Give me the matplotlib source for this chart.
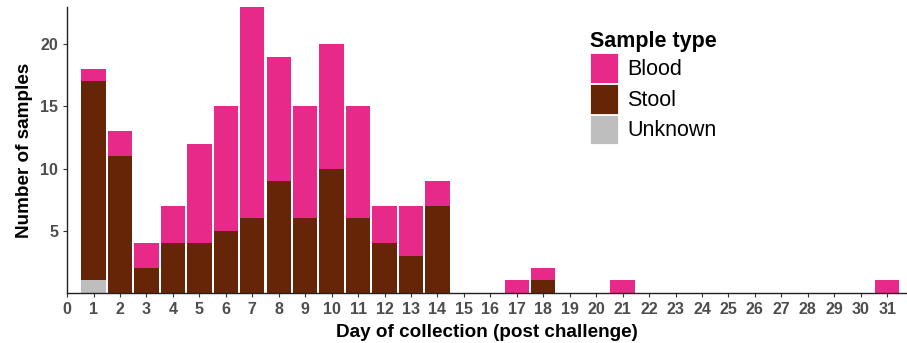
import matplotlib
matplotlib.use('Agg')
import matplotlib.pyplot as plt
import matplotlib.patches as mpatches
import numpy as np

plt.rcParams['font.family'] = ['Liberation Sans', 'DejaVu Sans']

days = [1, 2, 3, 4, 5, 6, 7, 8, 9, 10, 11, 12, 13, 14, 17, 18, 21, 31]
unknown = [1, 0, 0, 0, 0, 0, 0, 0, 0, 0, 0, 0, 0, 0, 0, 0, 0, 0]
stool = [16, 11, 2, 4, 4, 5, 6, 9, 6, 10, 6, 4, 3, 7, 0, 1, 0, 0]
blood = [1, 2, 2, 3, 8, 10, 17, 10, 9, 10, 9, 3, 4, 2, 1, 1, 1, 1]

colors = {'Blood': '#E7298A', 'Stool': '#662506', 'Unknown': '#BEBEBE'}


def gera_grafico():
    fig = plt.figure(figsize=(9.07, 3.43), dpi=100)
    ax = fig.add_axes([0.074, 0.146, 0.926, 0.834])

    x = np.array(days)
    u = np.array(unknown)
    s = np.array(stool)
    b = np.array(blood)
    w = 0.92
    ax.bar(x, u, width=w, color=colors['Unknown'], linewidth=0)
    ax.bar(x, s, width=w, bottom=u, color=colors['Stool'], linewidth=0)
    ax.bar(x, b, width=w, bottom=u + s, color=colors['Blood'], linewidth=0)

    ax.set_xlim(0, 31.75)
    ax.set_ylim(0, 23)
    ax.set_xticks(range(0, 32))
    ax.set_yticks([5, 10, 15, 20])
    ax.tick_params(axis='both', labelsize=11.5, colors='#333333', length=3,
                   labelcolor='#4d4d4d')
    for lbl in ax.get_xticklabels() + ax.get_yticklabels():
        lbl.set_fontweight('bold')
    for sp in ['top', 'right']:
        ax.spines[sp].set_visible(False)
    for sp in ['left', 'bottom']:
        ax.spines[sp].set_color('#222222')
        ax.spines[sp].set_linewidth(1.0)

    ax.set_xlabel('Day of collection (post challenge)', fontsize=13.6,
                  fontweight='bold', labelpad=5)
    ax.set_ylabel('Number of samples', fontsize=13.6, fontweight='bold',
                  labelpad=5)

    # Legenda com caixas altas e separadas por linha branca.
    handles = [mpatches.Patch(facecolor=colors[k], edgecolor='white',
                              linewidth=0.6, label=k)
               for k in ['Blood', 'Stool', 'Unknown']]
    leg = ax.legend(handles=handles, title='Sample type', loc='upper left',
                    bbox_to_anchor=(0.623, 0.916), frameon=False,
                    fontsize=15.5, title_fontproperties={'weight': 'bold', 'size': 15.5},
                    handlelength=1.3, handleheight=1.75, handletextpad=0.4,
                    labelspacing=0.05, borderaxespad=0, borderpad=0)
    leg._legend_box.align = 'left'

    fig.savefig('out.png', dpi=100)


def main():
    gera_grafico()


if __name__ == '__main__':
    main()
